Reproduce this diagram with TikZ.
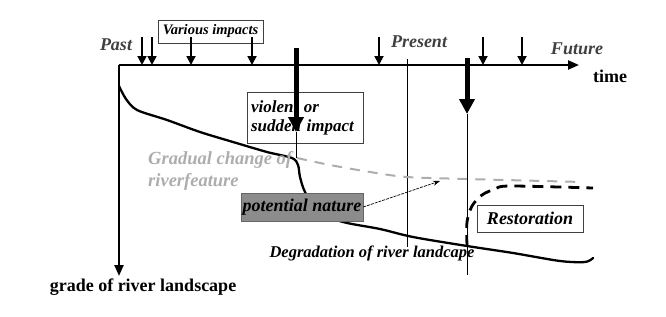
\documentclass[tikz,border=0pt]{standalone}
\usepackage{fontspec}
\setmainfont{Liberation Serif}
\usetikzlibrary{arrows.meta}
\definecolor{txtgray}{gray}{0.25}
\definecolor{lightgr}{gray}{0.68}
\definecolor{pnfill}{gray}{0.55}
\begin{document}
\begin{tikzpicture}[x=1pt,y=-1pt,
  lbl/.style={font=\fontsize{18}{20}\selectfont\bfseries\itshape, inner sep=0pt},
  upl/.style={font=\fontsize{18}{20}\selectfont\bfseries, inner sep=0pt},
  framebox/.style={draw=black!75, line width=0.8pt, fill=white},
  axisline/.style={line width=2.2pt, -{Triangle[length=11pt,width=9pt]}},
  impact/.style={line width=1.8pt, -{Triangle[length=9pt,width=9pt]}},
  bigimpact/.style={line width=5pt, -{Triangle[length=15pt,width=15pt]}},
  thinline/.style={line width=0.7pt},
  mainline/.style={line width=2.3pt, line cap=round, line join=round},
]
\useasboundingbox (0,0) rectangle (666,316);

% axes
\coordinate (O) at (119,65);
\coordinate (tend) at (579,65);
\coordinate (gend) at (119,276);
\draw[axisline] (O) -- (tend);
\draw[axisline] (O) -- (gend);

% labels on the axes
\node[lbl, text=txtgray] (past) at (116,45) {Past};
\node[lbl, text=txtgray] (present) at (419,42) {Present};
\node[lbl, text=txtgray] (future) at (577,49) {Future};
\node[upl] (time) at (610,76) {time};
\node[upl] (grade) at (143,287) {grade of river landscape};

% various impacts box
\node[framebox, minimum width=105pt, minimum height=23pt, inner sep=0pt,
      font=\fontsize{14.5}{16}\selectfont\bfseries\itshape] (various) at (210.5,31.5) {Various impacts};

% small impact arrows
\foreach \i/\x in {a/142,b/152,c/191,d/252,e/379,f/483,g/522}{
  \coordinate (s\i) at (\x,37);
  \coordinate (t\i) at (\x,65);
  \draw[impact] (s\i) -- (t\i);
}

% present line
\coordinate (presTop) at (407,59);
\coordinate (presBot) at (407,247);
\draw[thinline] (presTop) -- (presBot);

% violent box
\node[framebox, minimum width=116pt, minimum height=51pt, text width=108pt,
      inner sep=4pt, align=left, font=\fontsize{17}{19}\selectfont\bfseries\itshape]
      (violent) at (305,117.5) {violent or\\sudden impact};

% main degradation curve
\draw[mainline] plot[smooth, tension=0.5] coordinates {
 (119,86) (126,99) (137,110) (167,120) (200,132) (233,142) (267,152) (292,158)
 (298,165) (300,177) (305,192) (318,212) (343,222) (380,229) (413,237)
 (467,246) (513,253) (560,261) (585,262) (593,258)};

% gradual change dashed line
\draw[line width=2pt, lightgr, dash pattern=on 10pt off 8pt]
  plot[smooth, tension=0.5] coordinates {(297,158) (330,165) (370,172) (407,177) (467,179) (583,182)};
\node[lbl, text=lightgr, anchor=west, align=left, font=\fontsize{18.5}{22}\selectfont\bfseries\itshape]
  (gradual) at (148,171) {Gradual change of\\riverfeature};

% big impact arrows
\coordinate (b1s) at (296,48);
\coordinate (b1t) at (296,132);
\coordinate (b1e) at (296,158);
\draw[bigimpact] (b1s) -- (b1t);
\draw[thinline] (b1t) -- (b1e);

\coordinate (b2s) at (467,58);
\coordinate (b2t) at (467,114);
\coordinate (b2e) at (467,275);
\draw[bigimpact] (b2s) -- (b2t);
\draw[thinline] (b2t) -- (b2e);

% potential nature box
\node[draw=black!60, line width=0.6pt, fill=pnfill, minimum width=122pt, minimum height=28pt,
      inner sep=0pt, font=\fontsize{18}{20}\selectfont\bfseries\itshape] (potential) at (302,207) {potential nature};
\coordinate (ptip) at (440,181);
\draw[line width=0.7pt, dash pattern=on 3pt off 1pt, -{Stealth[length=7pt,width=5pt]}] (potential.east) -- (ptip);

% restoration
\draw[line width=2.8pt, dash pattern=on 11pt off 7pt]
  plot[smooth, tension=0.5] coordinates {(467,246) (467,222) (472,206) (482,195) (495,189) (510,186) (593,188)};
\node[framebox, minimum width=106pt, minimum height=27pt, inner sep=0pt,
      font=\fontsize{18}{20}\selectfont\bfseries\itshape] (restoration) at (530,218.5) {Restoration};

\node[lbl, font=\fontsize{16.5}{18}\selectfont\bfseries\itshape] (degradation) at (372,253) {Degradation of river landcape};
\end{tikzpicture}
\end{document}
